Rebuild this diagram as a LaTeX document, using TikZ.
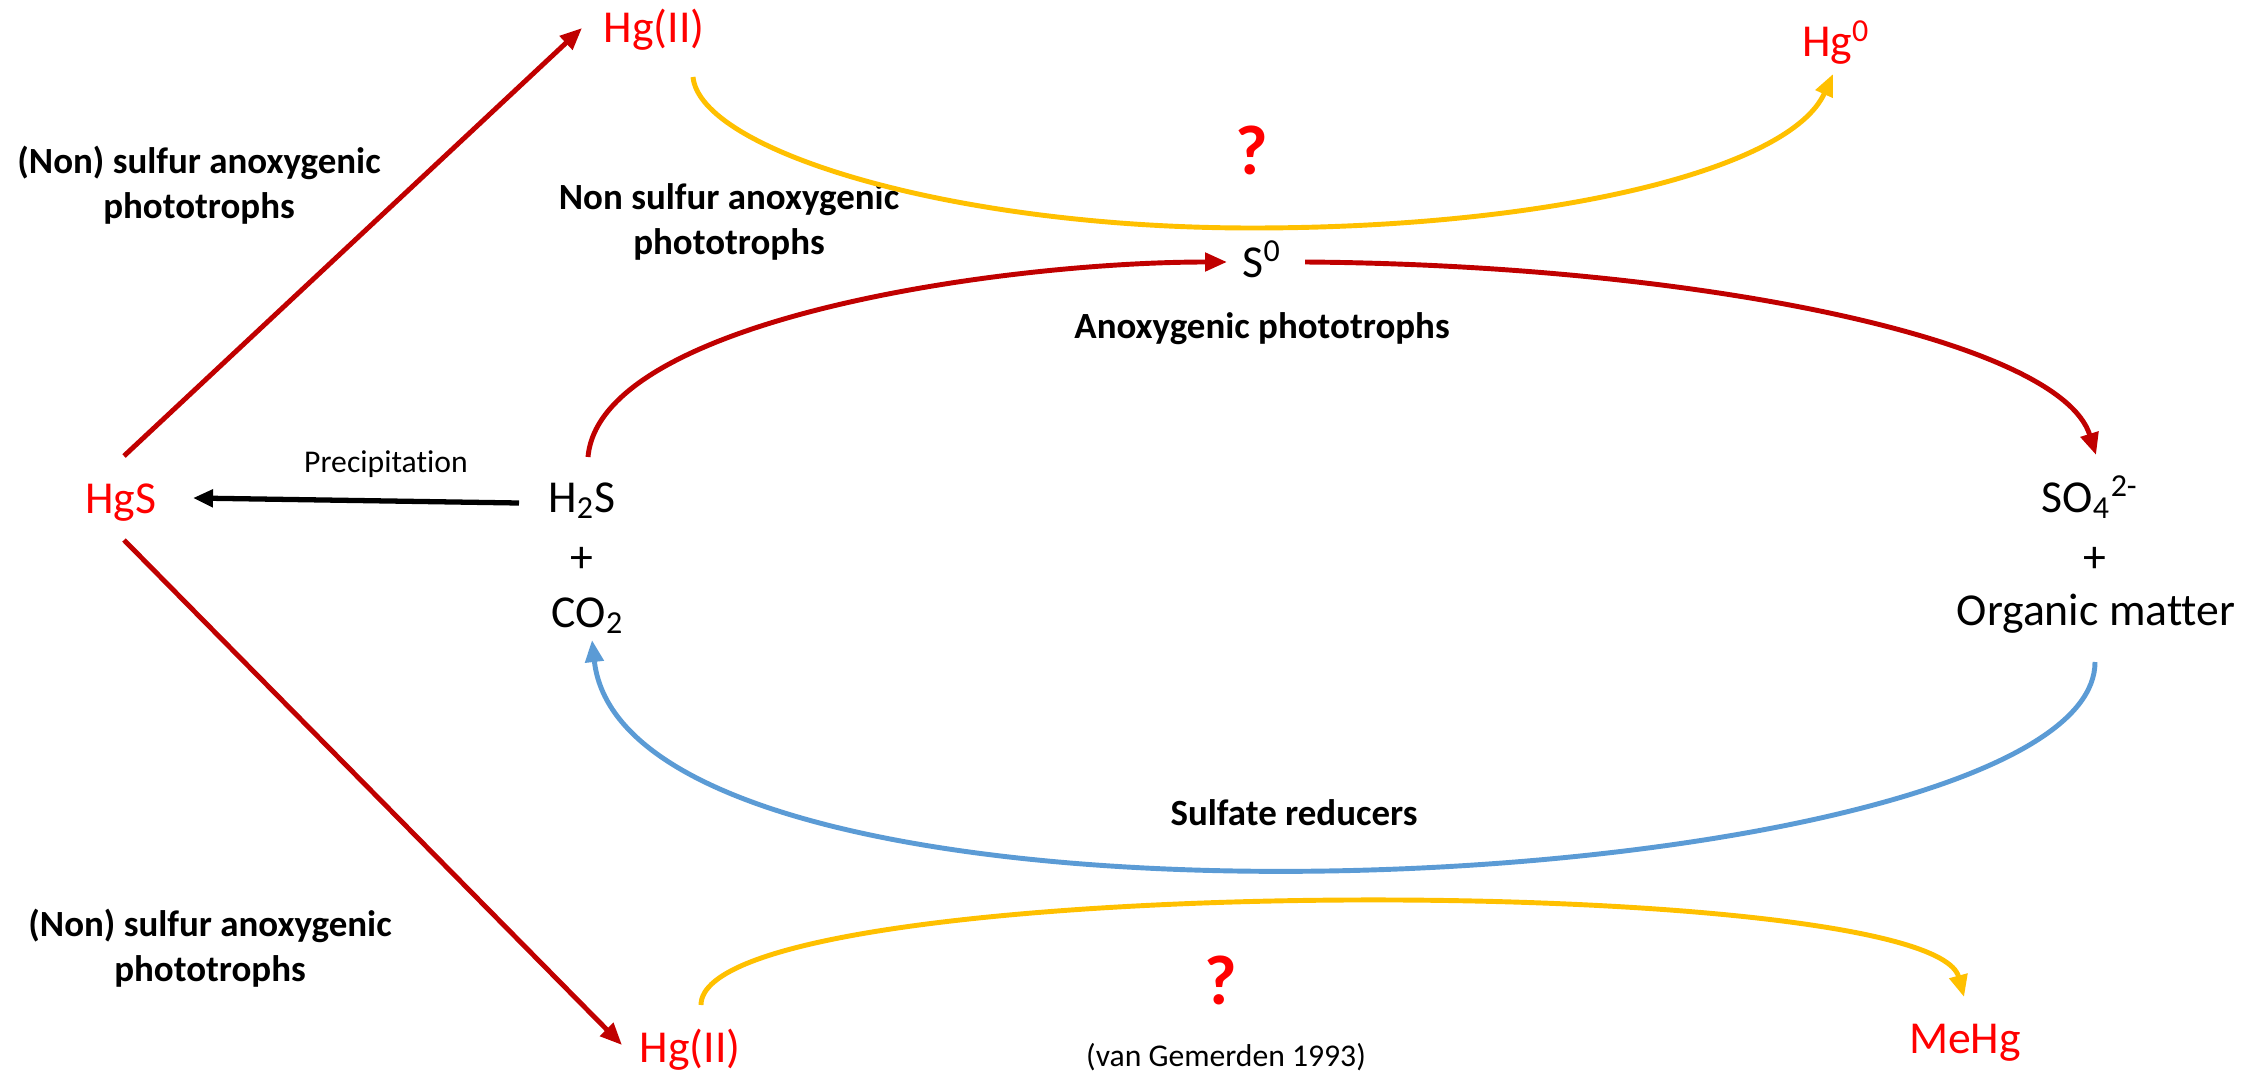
\documentclass[tikz,border=0pt]{standalone}
\usepackage{fontspec}
\setmainfont{Carlito}[Ligatures=NoCommon]
\usetikzlibrary{arrows.meta}

\definecolor{hgred}{RGB}{255,0,0}
\definecolor{darkred}{RGB}{192,0,0}
\definecolor{amber}{RGB}{255,192,0}
\definecolor{skyblue}{RGB}{91,155,213}

\begin{document}
\begin{tikzpicture}[x=0.01cm, y=-0.01cm,
  chem/.style={font=\fontsize{13}{16}\selectfont, anchor=base, inner sep=0pt},
  hgform/.style={chem, text=hgred},
  microbe/.style={font=\fontsize{10.5}{12.8}\selectfont\bfseries, align=center, inner sep=0pt},
  note/.style={font=\fontsize{9}{11}\selectfont, anchor=base, inner sep=0pt},
  quest/.style={font=\fontsize{20}{24}\selectfont\bfseries, text=hgred, anchor=base, inner sep=0pt},
  flow/.style={line width=1.4pt, -{Triangle[length=0.22cm,width=0.18cm]}}]
  \useasboundingbox (0,0) rectangle (2261,1073);
  % mercury species
  \node[hgform] (hgiiT) at (654,43) {Hg(II)};
  \node[hgform] (hgzero) at (1836,57) {Hg\textsuperscript{0}};
  \node[hgform] (hgs) at (121,513) {HgS};
  \node[hgform] (hgiiB) at (690,1062) {Hg(II)};
  \node[hgform] (mehg) at (1965,1053) {MeHg};
  % sulfur cycle
  \node[chem] (h2s) at (582,512) {H\textsubscript{2}S};
  \node[chem] (plusL) at (582,572) {+};
  \node[chem] (co2) at (588,627) {CO\textsubscript{2}};
  \node[chem] (szero) at (1262,277) {S\textsuperscript{0}};
  \node[chem] (so4) at (2090,512) {SO\textsubscript{4}\textsuperscript{2-}};
  \node[chem] (plusR) at (2095,572) {+};
  \node[chem] (orgm) at (2096,625) {Organic matter};
  \node[quest] (qtop) at (1252,175) {?};
  \node[quest] (qbot) at (1221,1004) {?};
  % organisms
  \node[microbe] (nsapTL) at (199,185) {(Non) sulfur anoxygenic\\phototrophs};
  \node[microbe] (nsapBL) at (210,948) {(Non) sulfur anoxygenic\\phototrophs};
  \node[microbe] (nsap) at (729,222) {Non sulfur anoxygenic\\phototrophs};
  \node[microbe, anchor=base] (anox) at (1262,338) {Anoxygenic phototrophs};
  \node[microbe, anchor=base] (sred) at (1294,825) {Sulfate reducers};
  \node[note] (precip) at (386,472) {Precipitation};
  \node[note] (ref) at (1226,1066) {(van Gemerden 1993)};
  \coordinate (ylow) at (1252,228);

  \draw[flow, darkred] ([shift={(3,-57)}]hgs.base) -- ([shift={(-72,-15)}]hgiiT.base);
  \draw[flow, darkred] ([shift={(3,27)}]hgs.base) -- ([shift={(-68,-17)}]hgiiB.base);
  \draw[line width=1.5pt, -{Triangle[length=0.2cm,width=0.17cm]}] ([shift={(-63,-9)}]h2s.base) -- ([shift={(72,-15)}]hgs.base);
  \draw[flow, darkred] ([shift={(6,-55)}]h2s.base) .. controls +(12,-137) and +(-227,0) .. ([shift={(-35,-15)}]szero.base);
  \draw[flow, darkred] ([shift={(43,-15)}]szero.base) .. controls +(395,3) and +(-36,-115) .. ([shift={(6,-57)}]so4.base);
  \draw[flow, amber] ([shift={(39,34)}]hgiiT.base) .. controls +(7,73) and +(-302,0) .. (ylow)
    .. controls +(298,0) and +(-43,96) .. ([shift={(-3,17)}]hgzero.base);
  \draw[flow, skyblue] ([shift={(-1,37)}]orgm.base) .. controls +(0,238) and +(38,340) .. ([shift={(4,13)}]co2.base);
  \draw[flow, amber] ([shift={(11,-57)}]hgiiB.base) .. controls +(0,-135) and +(-34,-127) .. ([shift={(-1,-56)}]mehg.base);
\end{tikzpicture}
\end{document}
